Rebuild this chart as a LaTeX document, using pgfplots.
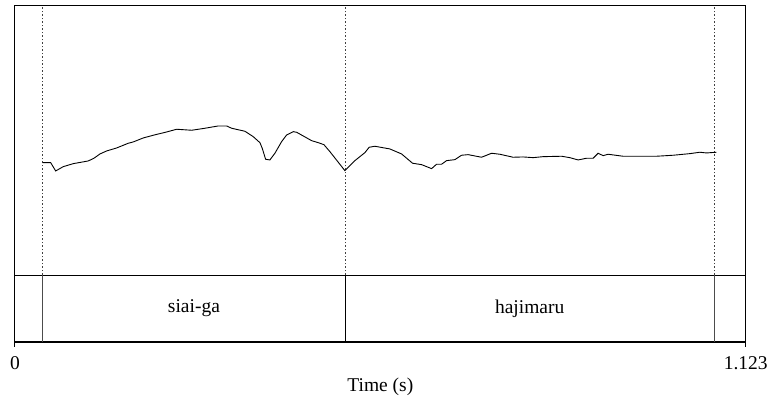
\documentclass[border=0pt]{standalone}
\usepackage{pgfplots}
\pgfplotsset{compat=1.18}
\usepackage{fontspec}
\setmainfont{Liberation Serif}
\usetikzlibrary{calc}
\begin{document}
\begin{tikzpicture}
\begin{axis}[name=ax, scale only axis, width=731pt, height=336pt,
  xmin=0, xmax=1.123, ymin=0, ymax=336,
  axis line style={line width=1pt},
  xtick={0,1.123}, xticklabels={0,1.123}, ytick=\empty,
  xtick pos=lower, tick align=outside, major tick length=5pt,
  tick style={black, line width=1pt},
  ticklabel style={font=\fontsize{19.5}{23}\selectfont},
  xticklabel style={yshift=-6pt},
  xlabel={Time (s)}, xlabel style={font=\fontsize{19.5}{23}\selectfont, yshift=-2pt},
  clip=false]
% tier frame
\addplot[black, line width=0.8pt] coordinates {(0,67) (1.123,67)};
\addplot[black, line width=2pt] coordinates {(0,0) (1.123,0)};
\addplot[black!70, line width=0.9pt] coordinates {(0.04256,0) (0.04256,67)};
\addplot[black, line width=0.9pt] coordinates {(0.5074,0) (0.5074,67)};
\addplot[black!70, line width=0.9pt] coordinates {(1.0749,0) (1.0749,67)};
% dotted boundaries
\addplot[black!75, line width=1pt, dash pattern=on 1.5pt off 2pt] coordinates {(0.04256,67) (0.04256,336)};
\addplot[black!75, line width=1pt, dash pattern=on 1.5pt off 2pt] coordinates {(0.5074,67) (0.5074,336)};
\addplot[black!75, line width=1pt, dash pattern=on 1.5pt off 2pt] coordinates {(1.0749,67) (1.0749,336)};
% pitch contour
\addplot[black, line width=0.9pt] coordinates {
(0.04256,179.3) (0.05485,179.3) (0.06253,171) (0.07420,175.3) (0.08957,178.3)
(0.11261,181) (0.12137,183.7) (0.13059,188) (0.14088,191) (0.15624,194)
(0.17406,198.7) (0.18174,200) (0.19711,204) (0.21247,206.7) (0.23306,210)
(0.24842,212.7) (0.27146,211.7) (0.29190,213.7) (0.31233,216) (0.32523,216)
(0.33292,213.7) (0.35335,210.7) (0.36610,205.3) (0.37639,199.3) (0.37993,193.7)
(0.38515,182.7) (0.39176,182) (0.39944,188.7) (0.40973,200.3) (0.41741,207)
(0.42755,210.3) (0.43278,209.7) (0.45582,201.3) (0.46596,199.3) (0.47472,197.3)
(0.48394,190.3) (0.50698,171.3) (0.52234,181.3) (0.53771,189.3) (0.54431,194.7)
(0.55307,195.7) (0.57611,193) (0.59409,188) (0.61099,178.7) (0.62482,177.3)
(0.64018,173.3) (0.64786,177.7) (0.65554,177.7) (0.66323,181.3) (0.67598,182.3)
(0.68627,186.7) (0.69641,187.3) (0.71699,184.7) (0.73236,188.7) (0.74511,187.7)
(0.76554,184.7) (0.78091,185) (0.79627,184.3) (0.81164,185.3) (0.83990,185.7)
(0.85265,184.3) (0.86540,182) (0.87830,183.7) (0.88845,183.7) (0.89613,188.7)
(0.90381,186.3) (0.91149,187.7) (0.93453,185.7) (0.96019,185.7) (0.98584,185.7)
(1.01135,186.7) (1.03700,188.3) (1.05237,189.7) (1.06266,189) (1.07802,189.7)
};
\node[font=\fontsize{19.5}{23}\selectfont] at (axis cs:0.275,33.5) {siai-ga};
\node[font=\fontsize{19.5}{23}\selectfont] at (axis cs:0.791,33.5) {hajimaru};
\end{axis}
\path ($(ax.south west)+(-15pt,-57pt)$) rectangle ($(ax.north east)+(25pt,6pt)$);
\end{tikzpicture}
\end{document}
